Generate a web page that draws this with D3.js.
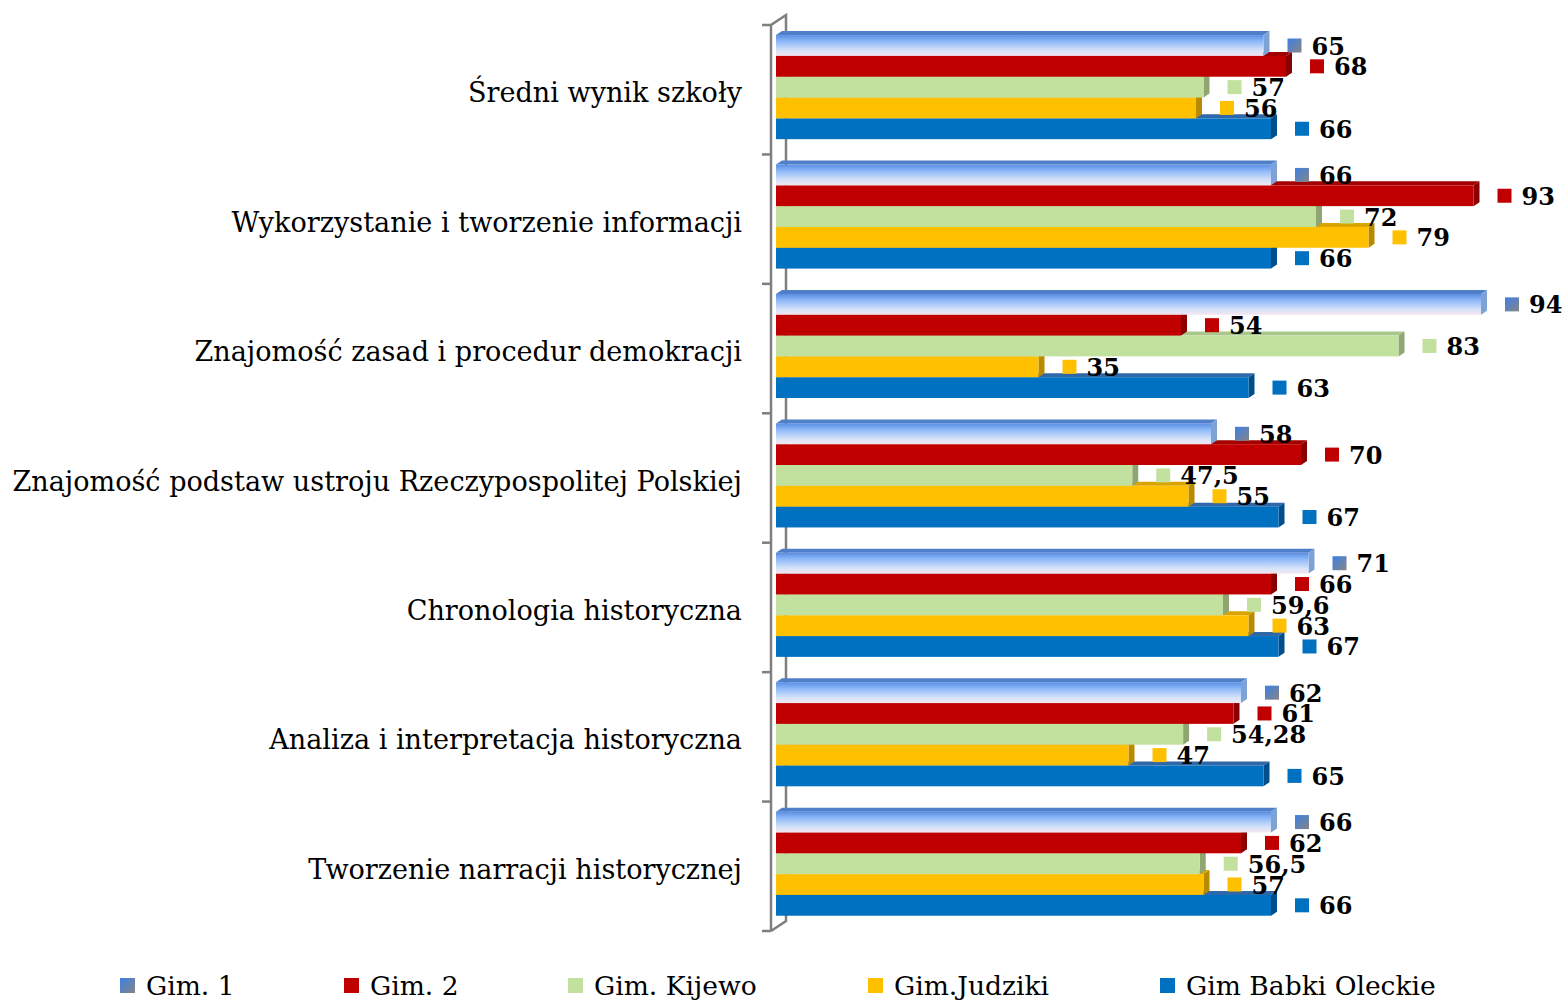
<!DOCTYPE html>
<html>
<head>
<meta charset="utf-8">
<script src="https://cdn.jsdelivr.net/npm/d3@7"></script>
<style>
  html, body { margin: 0; padding: 0; background: #ffffff; }
  svg { display: block; }
</style>
</head>
<body>
<svg id="chart" width="1566" height="1003"></svg>
<script>
// ---------- DATA ----------
const categories = [
  "Średni wynik szkoły",
  "Wykorzystanie i tworzenie informacji",
  "Znajomość zasad i procedur demokracji",
  "Znajomość podstaw ustroju Rzeczypospolitej Polskiej",
  "Chronologia historyczna",
  "Analiza i interpretacja historyczna",
  "Tworzenie narracji historycznej"
];
const seriesNames = ["Gim. 1", "Gim. 2", "Gim. Kijewo", "Gim.Judziki", "Gim Babki Oleckie"];
const gim1      = [65, 66, 94, 58, 71, 62, 66];
const gim2      = [68, 93, 54, 70, 66, 61, 62];
const gimKijewo = [57, 72, 83, 47.5, 59.6, 54.28, 56.5];
const gimJudziki= [56, 79, 35, 55, 63, 47, 57];
const gimBabki  = [66, 66, 63, 67, 67, 65, 66];
const seriesValues = [gim1, gim2, gimKijewo, gimJudziki, gimBabki];

// ---------- STYLE ----------
const fronts = ["url(#g1front)", "#C00000", "#C3E19E", "#FFC000", "#0070C0"];
const sides  = ["#7FA2D6", "#8A0000", "#8FA673", "#B88A00", "#004F8C"];
const tops   = ["#4F7FC8", "#A30000", "#A9C789", "#D9A300", "#2F67A8"];
const markers= ["url(#g1mark)", "#C00000", "#C3E19E", "#FFC000", "#0070C0"];

const svg = d3.select("#chart");
const defs = svg.append("defs");
const gf = defs.append("linearGradient").attr("id", "g1front").attr("x1",0).attr("y1",0).attr("x2",0).attr("y2",1);
[["0%","#5A8DE2"],["30%","#8DB8F8"],["75%","#D6E3F8"],["100%","#F4E6F0"]].forEach(s=>gf.append("stop").attr("offset",s[0]).attr("stop-color",s[1]));
const gm = defs.append("linearGradient").attr("id", "g1mark").attr("x1",0).attr("y1",0).attr("x2",1).attr("y2",1);
[["0%","#3D80E6"],["100%","#858585"]].forEach(s=>gm.append("stop").attr("offset",s[0]).attr("stop-color",s[1]));

// ---------- SCALES ----------
const x = d3.scaleLinear().domain([0, 100]).range([776, 1526]);
const y = d3.scaleBand().domain(categories).range([25, 931]).padding(0);
const bw = y.bandwidth();
const ys = d3.scaleBand().domain(seriesNames).range([bw * 0.078, bw * 0.882]).padding(0);
const bh = ys.bandwidth();
const dx = 6, dy = 4;

// ---------- WALL / AXIS ----------
const wall = svg.append("g").attr("stroke", "#7F7F7F").attr("stroke-width", 2.5).attr("fill", "none");
const yTop = 25, yBot = 931, xF = 771, xB = 786, wdy = 10;
wall.append("path").attr("d", `M${xF},${yBot} L${xF},${yTop} L${xB},${yTop - wdy} L${xB},${yBot - wdy} L${xF},${yBot}`);
const tickYs = categories.map(c => y(c)).concat([yBot]);
wall.selectAll("line.tick").data(tickYs).enter().append("line")
  .attr("x1", xF - 9).attr("x2", xF).attr("y1", d => d).attr("y2", d => d);

// ---------- BARS ----------
const barsG = svg.append("g");
categories.forEach((cat, ci) => {
  for (let si = seriesNames.length - 1; si >= 0; si--) {
    const v = seriesValues[si][ci];
    const x0 = x(0), x1 = x(v);
    const yt = y(cat) + ys(seriesNames[si]);
    const g = barsG.append("g");
    g.append("path").attr("d", `M${x0},${yt} L${x1},${yt} L${x1+dx},${yt-dy} L${x0+dx},${yt-dy} Z`).attr("fill", tops[si]);
    g.append("path").attr("d", `M${x1},${yt} L${x1+dx},${yt-dy} L${x1+dx},${yt+bh-dy} L${x1},${yt+bh} Z`).attr("fill", sides[si]);
    g.append("rect").attr("x", x0).attr("y", yt).attr("width", x1 - x0).attr("height", bh).attr("fill", fronts[si]);
  }
});

// ---------- VALUE LABELS ----------
const fmt = v => String(v).replace(".", ",");
const labG = svg.append("g");
categories.forEach((cat, ci) => {
  seriesNames.forEach((s, si) => {
    const v = seriesValues[si][ci];
    const yc = y(cat) + ys(s) + bh / 2;
    labG.append("rect").attr("x", x(v) + 24).attr("y", yc - 7).attr("width", 14).attr("height", 14).attr("fill", markers[si]);
    labG.append("text").attr("x", x(v) + 48).attr("y", yc + 9)
      .attr("font-family", "DejaVu Serif").attr("font-weight", "bold").attr("font-size", 24)
      .attr("fill", "#000").text(fmt(v));
  });
});

// ---------- CATEGORY LABELS ----------
const catG = svg.append("g");
const catTexts = catG.selectAll("text").data(categories).enter().append("text")
  .attr("x", 742).attr("y", d => y(d) + bw / 2 + 3)
  .attr("text-anchor", "end").attr("dominant-baseline", "central")
  .attr("font-family", "DejaVu Serif").attr("font-size", 24).attr("fill", "#000")
  .text(d => d);
let maxW = 0;
catTexts.each(function(){ maxW = Math.max(maxW, this.getComputedTextLength()); });
const fitSize = 24 * 730 / maxW;
catTexts.attr("font-size", fitSize);

// ---------- LEGEND ----------
const legX = [120, 344, 568, 868, 1160];
const leg = svg.append("g");
seriesNames.forEach((s, i) => {
  leg.append("rect").attr("x", legX[i]).attr("y", 978).attr("width", 15).attr("height", 15).attr("fill", markers[i]);
  leg.append("text").attr("x", legX[i] + 26).attr("y", 995)
    .attr("font-family", "DejaVu Serif").attr("font-size", fitSize * 0.98).attr("fill", "#000").text(s);
});
</script>
</body>
</html>
